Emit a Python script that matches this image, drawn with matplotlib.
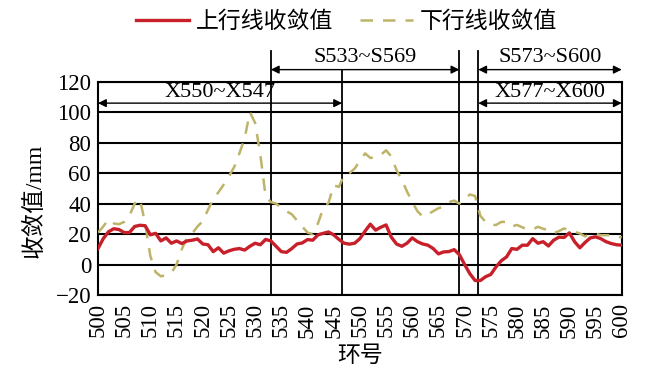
import matplotlib.pyplot as plt
import numpy as np

plt.rcParams['font.family'] = ['Liberation Serif', 'Noto Sans CJK SC']
plt.rcParams['axes.unicode_minus'] = True

# 环号
rings = np.arange(500, 601)

# 上行线收敛值 (mm)
up_vals = [10.5, 17, 21.5, 23.5, 23, 21, 21, 25, 25.8, 25.5,
           19.5, 20.5, 15.5, 17.5, 14, 15.5, 13.8, 15.5, 16, 16.8,
           13.5, 13, 8.5, 11, 7.5, 9, 10, 10.5, 9.5, 12,
           14, 13, 16.5, 15.5, 12, 8.5, 8, 10.5, 13.5, 14.2,
           16.4, 16, 19.5, 20.5, 21.4, 19.5, 16.5, 14, 13.4, 14,
           17, 22, 26.5, 22.6, 24.5, 26, 18, 13.5, 12, 14,
           17.5, 15, 13.5, 12.7, 10.5, 7, 8.3, 8.5, 9.8, 6.5,
           0, -6, -10.5, -10.5, -8, -6.5, -1.5, 2.5, 5, 10.5,
           10, 12.7, 12.7, 17, 14, 15, 12.2, 16, 18, 17.8,
           20.8, 15, 11, 14.5, 17.5, 18.2, 17, 15, 13.8, 13,
           12.7]

# 下行线收敛值 (mm)
down_vals = [21, 25, 29.6, 27, 26.5, 28, 32, 40, 43, 27,
             5.5, -5, -7.7, -7, -5.5, 0, 10, 18, 20.5, 25,
             28.5, 36, 43, 47.5, 52.5, 58, 64, 73, 83, 100,
             93, 72, 45, 41, 40, 37.5, 35, 33, 29, 25,
             21, 20, 27, 37, 40.5, 52, 51, 59, 60, 63,
             68, 73, 70, 70.5, 72, 75, 71, 62, 55.5, 48,
             41, 35, 31.5, 33, 35, 37, 38, 41, 42, 40,
             43, 46, 45, 32, 28, 26, 26, 28, 28, 25,
             26, 24.5, 23, 23, 24.8, 23.5, 22.6, 20.5, 22, 23.7,
             22.6, 21.5, 20.4, 18.5, 20, 20.2, 19.3, 19.3, 19.3, 18.5,
             17.8]

# 区段分界环号
sections = [533, 546.6, 569, 572.6]
top_arrows = [('S533~S569', 533, 569), ('S573~S600', 572.6, 600)]
inner_arrows = [('X550~X547', 500, 546.6), ('X577~X600', 572.6, 600)]

fig = plt.figure(figsize=(6.49, 3.77), dpi=100)
ax = fig.add_axes([0.151, 0.2175, 0.807, 0.5655])

ax.plot(rings, up_vals, color='#c8202a', lw=2.4, label='上行线收敛值', zorder=4)
ax.plot(rings, down_vals, color='#bdb46a', lw=1.8, ls=(0, (5, 4)),
        label='下行线收敛值', zorder=3)

ax.set_xlim(500, 600)
ax.set_ylim(-20, 120)
ax.set_yticks(np.arange(-20, 121, 20))
ax.set_xticks(np.arange(500, 601, 5))
ax.tick_params(axis='x', labelrotation=90, labelsize=16.5, length=0, pad=6)
ax.tick_params(axis='y', labelsize=16.5, length=0, pad=5)
ax.grid(axis='y', color='black', lw=1.5)
for s in ax.spines.values():
    s.set_linewidth(1.5)

# 分界竖线
tops = [140, 128, 140, 140]
for x, t in zip(sections, tops):
    ax.plot([x, x], [-20, t], color='black', lw=1.3, clip_on=False, zorder=2)

arrow_kw = dict(arrowstyle='<|-|>', color='black', lw=1.0,
                mutation_scale=12, shrinkA=0, shrinkB=0)
for txt, x0, x1 in top_arrows:
    ax.annotate('', xy=(x1, 128), xytext=(x0, 128),
                arrowprops=arrow_kw, annotation_clip=False)
    ax.text((x0 + x1) / 2, 129.5, txt, ha='center', va='bottom',
            fontsize=16)
for txt, x0, x1 in inner_arrows:
    ax.annotate('', xy=(x1, 106), xytext=(x0, 106),
                arrowprops=arrow_kw, annotation_clip=False)
    ax.text((x0 + x1) / 2, 107, txt, ha='center', va='bottom',
            fontsize=16)

ax.set_ylabel('收敛值/mm', fontsize=17)
ax.yaxis.set_label_coords(-0.10, 0.44)
ax.set_xlabel('环号', fontsize=16.5, labelpad=6)

fig.legend(loc='center', bbox_to_anchor=(0.534, 0.942), ncol=2,
           frameon=False, fontsize=16.5, handlelength=2.3,
           columnspacing=1.2, handletextpad=0.3)

fig.savefig('out.png', dpi=100)
